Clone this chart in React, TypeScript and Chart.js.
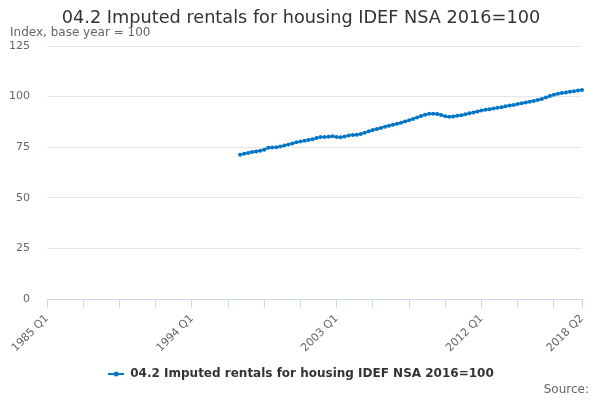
import React, { useEffect, useRef } from 'react';
import { Chart, registerables } from 'chart.js';

Chart.register(...registerables);

const seriesName = '04.2 Imputed rentals for housing IDEF NSA 2016=100';
const axisTitle = 'Index, base year = 100';
const sourceText = 'Source:';
const lineColor = '#0076c8';

// quarters shown on the axis, 1985 Q1 .. 2018 Q2
const quarterLabels: string[] = [];
for (let year = 1985; year <= 2018; year++) {
  for (let q = 1; q <= 4; q++) {
    if (year === 2018 && q > 2) break;
    quarterLabels.push(`${year} Q${q}`);
  }
}

const labelledTicks = ['1985 Q1', '1994 Q1', '2003 Q1', '2012 Q1', '2018 Q2'];
const tickMarks = [
  '1985 Q1', '1987 Q2', '1989 Q3', '1991 Q4', '1994 Q1', '1996 Q2', '1998 Q3', '2000 Q4',
  '2003 Q1', '2005 Q2', '2007 Q3', '2009 Q4', '2012 Q1', '2014 Q2', '2016 Q3', '2018 Q2',
];

const seriesStart = '1997 Q1';
const rentalIndex = [
  71.3, 71.8, 72.2, 72.6, 72.9, 73.3, 73.8, 74.8, 74.9, 75.0, 75.4, 75.9, 76.4, 76.9, 77.4, 77.8,
  78.2, 78.6, 79.0, 79.6, 80.1, 80.1, 80.2, 80.4, 80.1, 79.9, 80.3, 80.8, 81.1, 81.2, 81.5, 82.2,
  82.9, 83.5, 84.0, 84.5, 85.1, 85.6, 86.1, 86.6, 87.1, 87.7, 88.3, 89.0, 89.7, 90.4, 91.0, 91.5,
  91.6, 91.4, 90.9, 90.3, 90.0, 90.2, 90.5, 90.8, 91.3, 91.8, 92.2, 92.7, 93.1, 93.5, 93.8, 94.1,
  94.5, 94.8, 95.2, 95.6, 95.9, 96.3, 96.7, 97.1, 97.5, 97.9, 98.3, 98.8, 99.6, 100.3, 100.9, 101.4,
  101.8, 102.1, 102.4, 102.7, 103.0, 103.3,
];

const yTicks = [0, 25, 50, 75, 100, 125];

const FONT = "'DejaVu Sans', sans-serif";

const sourcePlugin = {
  id: 'sourceNote',
  afterDraw(chart: Chart) {
    const ctx = chart.ctx;
    ctx.save();
    ctx.font = `12px ${FONT}`;
    ctx.fillStyle = '#666666';
    ctx.textAlign = 'right';
    ctx.textBaseline = 'middle';
    ctx.fillText(sourceText, 589, 390);
    ctx.restore();
  },
};

function legendSymbol() {
  const c = document.createElement('canvas');
  c.width = 16;
  c.height = 8;
  const g = c.getContext('2d');
  if (g) {
    g.strokeStyle = lineColor;
    g.lineWidth = 2;
    g.beginPath();
    g.moveTo(0, 4);
    g.lineTo(16, 4);
    g.stroke();
    g.fillStyle = lineColor;
    g.beginPath();
    g.arc(8, 4, 2.5, 0, Math.PI * 2);
    g.fill();
  }
  return c;
}

export default function App() {
  const canvasRef = useRef<HTMLCanvasElement>(null);
  const chartRef = useRef<Chart | null>(null);

  useEffect(() => {
    if (!canvasRef.current) return;
    const ctx = canvasRef.current.getContext('2d');
    if (!ctx) return;

    const offset = quarterLabels.indexOf(seriesStart);
    const data = quarterLabels.map((_, i) =>
      i >= offset && i - offset < rentalIndex.length ? rentalIndex[i - offset] : null
    );

    chartRef.current = new Chart(ctx, {
      type: 'line',
      data: {
        labels: quarterLabels,
        datasets: [
          {
            label: seriesName,
            data,
            borderColor: lineColor,
            backgroundColor: lineColor,
            borderWidth: 2,
            pointRadius: 2,
            pointBorderWidth: 0,
            pointBackgroundColor: lineColor,
            tension: 0,
          },
        ],
      },
      options: {
        animation: false,
        responsive: true,
        maintainAspectRatio: false,
        layout: { padding: { left: 10, right: 8, top: 0, bottom: 10 } },
        plugins: {
          title: {
            display: true,
            text: seriesName,
            color: '#333333',
            font: { family: FONT, size: 17.7, weight: 'normal' },
            padding: { top: 8, bottom: 0 },
          },
          subtitle: {
            display: true,
            text: axisTitle,
            align: 'start',
            color: '#666666',
            font: { family: FONT, size: 12, weight: 'normal' },
            padding: { top: -3.9, bottom: 6.3 },
          },
          legend: {
            position: 'bottom',
            labels: {
              color: '#333333',
              font: { family: FONT, size: 12, weight: 'bold' },
              usePointStyle: true,
              pointStyle: legendSymbol(),
              pointStyleWidth: 16,
              padding: 8,
            },
          },
          tooltip: { enabled: false },
        },
        scales: {
          x: {
            type: 'category',
            offset: false,
            grid: {
              drawOnChartArea: false,
              drawTicks: true,
              tickLength: 9,
              color: (c: any) =>
                tickMarks.includes(quarterLabels[c.index]) ? '#ccd6eb' : 'rgba(0,0,0,0)',
            },
            border: { display: true, color: '#ccd6eb' },
            ticks: {
              autoSkip: false,
              maxRotation: 45,
              minRotation: 45,
              padding: 4,
              color: '#666666',
              font: { family: FONT, size: 11 },
              callback: (_v: any, i: number) =>
                labelledTicks.includes(quarterLabels[i]) ? quarterLabels[i] : '',
            },
            afterFit: (scale: any) => {
              scale.height = 61;
            },
          },
          y: {
            min: 0,
            max: 125,
            afterBuildTicks: (scale: any) => {
              scale.ticks = yTicks.map((v) => ({ value: v }));
            },
            grid: { color: '#e6e6e6', drawTicks: false },
            border: { display: false },
            ticks: {
              padding: 17,
              color: '#666666',
              font: { family: FONT, size: 11 },
            },
            afterFit: (scale: any) => {
              scale.width = 37;
            },
          },
          // empty right-hand gutter so the plot ends where the reference does
          gutter: {
            type: 'linear',
            position: 'right',
            grid: { display: false },
            border: { display: false },
            ticks: { display: false },
            afterFit: (scale: any) => {
              scale.width = 10;
            },
          },
        },
      },
      plugins: [sourcePlugin],
    } as any);

    return () => {
      if (chartRef.current) {
        chartRef.current.destroy();
        chartRef.current = null;
      }
    };
  }, []);

  return (
    <div
      style={{
        position: 'absolute',
        left: 0,
        top: 0,
        width: '600px',
        height: '400px',
        background: '#ffffff',
      }}
    >
      <canvas ref={canvasRef} />
    </div>
  );
}
